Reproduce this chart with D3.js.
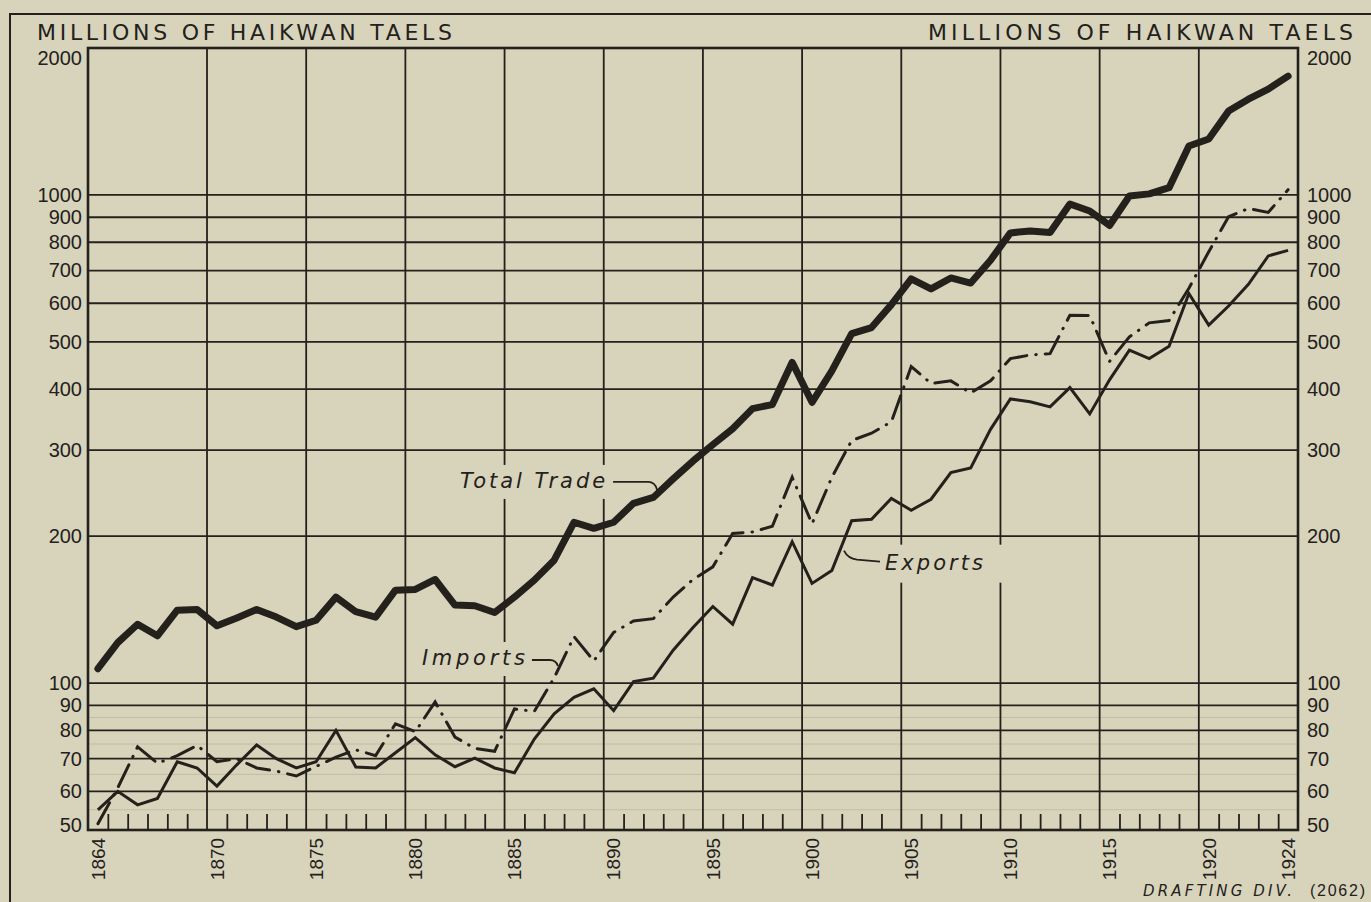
<!DOCTYPE html>
<html>
<head>
<meta charset="utf-8">
<script src="https://cdn.jsdelivr.net/npm/d3@7/dist/d3.min.js"></script>
<style>
  body { margin: 0; background: #d7d4bb; }
  svg text { font-family: "Liberation Sans", Arial, sans-serif; fill: #24201b; }
  svg text.lettering { font-family: "DejaVu Sans", "Liberation Sans", sans-serif; }
</style>
</head>
<body>
<div id="chart"></div>
<script>
// years 1864..1924, one value per year (millions of Haikwan taels)
var years = d3.range(1864, 1925);

var totalTrade = [
  107, 121, 132, 125, 141, 141.5, 131, 136, 141.5, 136.5,
  130.5, 134.5, 150, 140, 136.5, 155, 155.5, 163, 144.5, 144,
  139.5, 150, 162.5, 178.5, 213.5, 207.5, 213.5, 233.5, 240, 262,
  285, 308, 332, 365, 372, 454, 376, 436, 520, 535,
  596, 673, 642, 676, 660, 735, 836, 844, 838, 958,
  927, 866, 995, 1005, 1035, 1260, 1302, 1485, 1571, 1647,
  1751
];

var importsData = [
  51.5, 61, 74, 68.5, 71, 74.5, 69, 70, 67, 66,
  64.5, 67.5, 70.5, 73, 71, 82.5, 79.5, 91.5, 77.5, 73.5,
  72.5, 88.5, 87.5, 102.5, 124.5, 111, 127, 134, 135.5, 150,
  163, 173, 202.5, 204, 209.5, 264, 212, 264, 314, 325,
  343, 445, 411, 416, 393, 416, 462, 470, 473, 567,
  566, 456, 512, 547, 553, 644, 765, 902, 938, 921,
  1025
];

var exportsData = [
  55, 60, 56.3, 58, 69, 67, 61.5, 68, 74.7, 70,
  67, 69, 80, 67.3, 67, 72, 77.3, 71.3, 67.4, 70.2,
  67, 65.5, 76.8, 86.5, 93.5, 97.3, 87.8, 100.7, 102.3, 116.8,
  130, 143.5, 132, 164.5, 158.8, 194.8, 160, 170, 215, 216.5,
  239, 226, 238, 270, 276, 331, 382, 377, 368, 403,
  356, 418, 481, 462, 490, 628, 541, 592, 656, 750,
  770
];

var yTicks = [50, 60, 70, 80, 90, 100, 200, 300, 400, 500, 600, 700, 800, 900, 1000, 2000];
var yMinor = [55, 65, 75, 85];
var gridYears = [1870, 1875, 1880, 1885, 1890, 1895, 1900, 1905, 1910, 1915, 1920];
var yearLabels = [1864, 1870, 1875, 1880, 1885, 1890, 1895, 1900, 1905, 1910, 1915, 1920, 1924];
var axisTitle = "MILLIONS OF HAIKWAN TAELS";

var svgWidth = 1371;
var svgHeight = 902;
var margin = { top: 48, right: 73, bottom: 72, left: 88 };
var width = svgWidth - margin.left - margin.right;
var height = svgHeight - margin.top - margin.bottom;
var ink = "#24201b";
var paper = "#d7d4bb";

var svg = d3.select("#chart")
  .append("svg")
  .attr("width", svgWidth)
  .attr("height", svgHeight);

svg.append("rect").attr("width", svgWidth).attr("height", svgHeight).attr("fill", paper);

// outer drafting frame (top and left edge of the sheet)
svg.append("path")
  .attr("d", "M10,902 V14 H1371")
  .attr("fill", "none").attr("stroke", ink).attr("stroke-width", 2);

// axis titles
svg.append("text").attr("class", "lettering").attr("x", 37).attr("y", 40)
  .attr("font-size", 22).attr("textLength", 415).attr("lengthAdjust", "spacing")
  .text(axisTitle);
svg.append("text").attr("class", "lettering").attr("x", 928).attr("y", 40)
  .attr("font-size", 22).attr("textLength", 425).attr("lengthAdjust", "spacing")
  .text(axisTitle);

var chartGroup = svg.append("g")
  .attr("transform", `translate(${margin.left}, ${margin.top})`);

// scales: one cell per year, points drawn at the middle of the cell
var x = d3.scaleLinear().domain([1864, 1925]).range([0, width]);
var y = d3.scaleLog().domain([50, 2000]).range([height, 0]);

// faint minor lines in the lower band
chartGroup.append("g").selectAll("line")
  .data(yMinor).enter().append("line")
  .attr("x1", 0).attr("x2", width)
  .attr("y1", d => y(d)).attr("y2", d => y(d))
  .attr("stroke", ink).attr("stroke-opacity", 0.12).attr("stroke-width", 1);

// horizontal grid
chartGroup.append("g").selectAll("line")
  .data(yTicks.filter(d => d !== 50 && d !== 2000)).enter().append("line")
  .attr("x1", 0).attr("x2", width)
  .attr("y1", d => y(d)).attr("y2", d => y(d))
  .attr("stroke", ink).attr("stroke-width", 1.8);

// vertical grid
chartGroup.append("g").selectAll("line")
  .data(gridYears).enter().append("line")
  .attr("x1", d => x(d)).attr("x2", d => x(d))
  .attr("y1", 0).attr("y2", height)
  .attr("stroke", ink).attr("stroke-width", 1.8);

// small year ticks along the bottom
var minorYears = years.filter(d => d > 1864 && gridYears.indexOf(d) < 0);
var bottomAxis = d3.axisBottom(x).tickValues(minorYears).tickSize(-16).tickFormat("");
var bottomG = chartGroup.append("g")
  .attr("transform", `translate(0, ${height})`)
  .call(bottomAxis);
bottomG.select(".domain").remove();
bottomG.selectAll("line").attr("stroke", ink).attr("stroke-width", 1.8);

// year labels
chartGroup.append("g").selectAll("text")
  .data(yearLabels).enter().append("text")
  .attr("transform", d => `translate(${x(d + 0.5)}, ${height + 29}) rotate(-90)`)
  .attr("text-anchor", "middle")
  .attr("dy", "0.36em")
  .attr("font-size", 19)
  .text(d => d);

// value axes, both sides
function styleAxis(g) {
  g.select(".domain").remove();
  g.selectAll("text")
    .attr("font-size", 20)
    .attr("fill", ink)
    .attr("dy", d => d === 2000 ? "0.82em" : d === 50 ? "0.08em" : "0.32em");
}
var leftAxis = d3.axisLeft(y).tickValues(yTicks).tickSize(0).tickPadding(6).tickFormat(d3.format("d"));
var rightAxis = d3.axisRight(y).tickValues(yTicks).tickSize(0).tickPadding(9).tickFormat(d3.format("d"));
chartGroup.append("g").call(leftAxis).call(styleAxis);
chartGroup.append("g").attr("transform", `translate(${width}, 0)`).call(rightAxis).call(styleAxis);

// halos behind the series labels go here (filled after the labels are measured)
var haloGroup = chartGroup.append("g");

// plot frame
chartGroup.append("rect")
  .attr("width", width).attr("height", height)
  .attr("fill", "none").attr("stroke", ink).attr("stroke-width", 2.6);

// series
function toRows(vals) {
  return years.map((yr, i) => ({ year: yr, value: vals[i] }));
}
var line = d3.line()
  .x(d => x(d.year + 0.5))
  .y(d => y(d.value));

chartGroup.append("path")
  .datum(toRows(exportsData))
  .attr("d", line)
  .attr("fill", "none").attr("stroke", ink).attr("stroke-width", 3)
  .attr("stroke-linejoin", "miter");

chartGroup.append("path")
  .datum(toRows(importsData))
  .attr("d", line)
  .attr("fill", "none").attr("stroke", ink).attr("stroke-width", 3)
  .attr("stroke-linecap", "round")
  .attr("stroke-dasharray", "24,9,0.5,9");

chartGroup.append("path")
  .datum(toRows(totalTrade))
  .attr("d", line)
  .attr("fill", "none").attr("stroke", ink).attr("stroke-width", 7)
  .attr("stroke-linejoin", "round").attr("stroke-linecap", "round");

// point on a series at a fractional year (log interpolation)
function pointAt(vals, t) {
  var i = Math.floor(t - 1864), f = t - 1864 - i;
  var v = Math.exp(Math.log(vals[i]) * (1 - f) + Math.log(vals[i + 1]) * f);
  return [x(t + 0.5), y(v)];
}

var labelGroup = chartGroup.append("g");
var leaderStyle = sel => sel.attr("fill", "none").attr("stroke", ink).attr("stroke-width", 1.8);

// Total Trade
var pT = pointAt(totalTrade, 1892.19);
labelGroup.append("path").call(leaderStyle)
  .attr("d", `M${pT[0] - 44},${pT[1] - 12} L${pT[0] - 9},${pT[1] - 12} Q${pT[0] - 2},${pT[1] - 12} ${pT[0]},${pT[1] - 4}`);
var tTotal = labelGroup.append("text").attr("class", "lettering")
  .attr("x", pT[0] - 197).attr("y", pT[1] - 6)
  .attr("font-size", 21).attr("font-style", "italic")
  .attr("textLength", 145).attr("lengthAdjust", "spacing")
  .text("Total Trade");

// Imports
var pI = pointAt(importsData, 1887.19);
labelGroup.append("path").call(leaderStyle)
  .attr("d", `M${pI[0] - 26},${pI[1] - 10} L${pI[0] - 8},${pI[1] - 10} Q${pI[0] - 2},${pI[1] - 10} ${pI[0]},${pI[1] - 4}`);
var tImp = labelGroup.append("text").attr("class", "lettering")
  .attr("x", pI[0] - 136).attr("y", pI[1] - 5)
  .attr("font-size", 21).attr("font-style", "italic")
  .attr("textLength", 103).attr("lengthAdjust", "spacing")
  .text("Imports");

// Exports
var pE = pointAt(exportsData, 1901.46);
labelGroup.append("path").call(leaderStyle)
  .attr("d", `M${pE[0] + 3},${pE[1] + 3} Q${pE[0] + 7},${pE[1] + 11} ${pE[0] + 16},${pE[1] + 12} L${pE[0] + 39},${pE[1] + 14}`);
var tExp = labelGroup.append("text").attr("class", "lettering")
  .attr("x", pE[0] + 44).attr("y", pE[1] + 22)
  .attr("font-size", 21).attr("font-style", "italic")
  .attr("textLength", 98).attr("lengthAdjust", "spacing")
  .text("Exports");

// clear the grid behind each label
[[tTotal, 8, 60, 8, 6], [tImp, 8, 34, 8, 6], [tExp, 6, 30, 10, 8]].forEach(function (h) {
  var b = h[0].node().getBBox();
  haloGroup.append("rect")
    .attr("x", b.x - h[1]).attr("y", b.y - h[3] + 4)
    .attr("width", b.width + h[1] + h[2]).attr("height", b.height + h[3] + h[4] - 4)
    .attr("fill", paper);
});

// credit line
svg.append("text").attr("class", "lettering").attr("x", 1143).attr("y", 896)
  .attr("font-size", 15).attr("font-style", "italic")
  .attr("textLength", 149).attr("lengthAdjust", "spacing")
  .text("DRAFTING DIV.");
svg.append("text").attr("x", 1310).attr("y", 896)
  .attr("font-size", 16)
  .attr("textLength", 55).attr("lengthAdjust", "spacing")
  .text("(2062)");
</script>
</body>
</html>
